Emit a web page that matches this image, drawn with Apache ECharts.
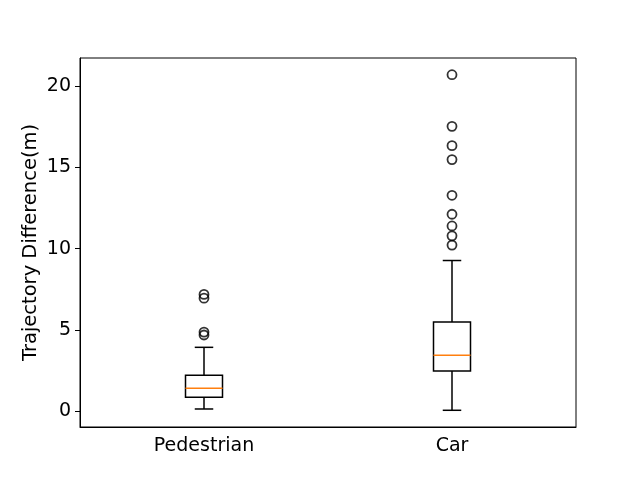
<!DOCTYPE html>
<html>
<head>
<meta charset="utf-8">
<script src="https://cdn.jsdelivr.net/npm/echarts@6/dist/echarts.min.js"></script>
<style>
  html, body { margin: 0; padding: 0; background: #fff; }
  #chart { width: 640px; height: 480px; }
</style>
</head>
<body>
<div id="chart"></div>
<script>
// 箱线图数据：[下须, Q1, 中位数, Q3, 上须]
const categories = ['Pedestrian', 'Car'];
const boxStats = [
  [0.12, 0.84, 1.40, 2.20, 3.92],
  [0.04, 2.46, 3.43, 5.48, 9.27]
];
// 离群点：[类别索引, 值]
const outliers = [
  [0, 7.18], [0, 6.95], [0, 4.86], [0, 4.68],
  [1, 20.72], [1, 17.54], [1, 16.35], [1, 15.49], [1, 13.29],
  [1, 12.12], [1, 11.40], [1, 10.79], [1, 10.22]
];
const yTicks = [0, 5, 10, 15, 20];

const chart = echarts.init(document.getElementById('chart'));
const font = 'DejaVu Sans';
const boxW = 37;

const option = {
  animation: false,
  grid: { left: 80, right: 64, top: 58, bottom: 53, show: true, borderColor: '#000', borderWidth: 1 },
  xAxis: {
    type: 'category',
    data: categories,
    boundaryGap: true,
    axisLine: { onZero: false, lineStyle: { color: '#000', width: 1 } },
    axisTick: { alignWithLabel: true, length: 5, lineStyle: { color: '#000' } },
    axisLabel: { color: '#000', fontFamily: font, fontSize: 19, margin: 10 },
    splitLine: { show: false }
  },
  yAxis: {
    type: 'value',
    min: -0.99,
    max: 21.75,
    name: 'Trajectory Difference(m)',
    nameLocation: 'middle',
    nameGap: 39,
    nameMoveOverlap: false,
    nameTextStyle: { color: '#000', fontFamily: font, fontSize: 19.5 },
    axisLine: { show: true, onZero: false, lineStyle: { color: '#000', width: 1 } },
    axisTick: { show: true, length: 5, customValues: yTicks, lineStyle: { color: '#000' } },
    axisLabel: { color: '#000', fontFamily: font, fontSize: 19, margin: 9, customValues: yTicks },
    splitLine: { show: false }
  },
  series: [
    {
      type: 'custom',
      data: boxStats.map((s, i) => [i].concat(s)),
      renderItem: function (params, api) {
        const x = api.coord([api.value(0), 0])[0];
        const y = v => api.coord([api.value(0), api.value(v)])[1];
        const lo = y(1), q1 = y(2), med = y(3), q3 = y(4), hi = y(5);
        const hw = boxW / 2, cw = boxW / 4;
        const st = { stroke: '#000', lineWidth: 1.5, fill: null };
        return {
          type: 'group',
          children: [
            { type: 'rect', shape: { x: x - hw, y: q3, width: boxW, height: q1 - q3 }, style: st },
            { type: 'line', shape: { x1: x, y1: q3, x2: x, y2: hi }, style: st },
            { type: 'line', shape: { x1: x, y1: q1, x2: x, y2: lo }, style: st },
            { type: 'line', shape: { x1: x - cw, y1: hi, x2: x + cw, y2: hi }, style: st },
            { type: 'line', shape: { x1: x - cw, y1: lo, x2: x + cw, y2: lo }, style: st },
            { type: 'line', shape: { x1: x - hw, y1: med, x2: x + hw, y2: med }, style: { stroke: '#ff7f0e', lineWidth: 1.5 } }
          ]
        };
      }
    },
    {
      type: 'scatter',
      data: outliers,
      symbol: 'circle',
      symbolSize: 9,
      itemStyle: { color: 'rgba(0,0,0,0)', borderColor: '#000', borderWidth: 1.8 }
    }
  ]
};

chart.setOption(option);
</script>
</body>
</html>
